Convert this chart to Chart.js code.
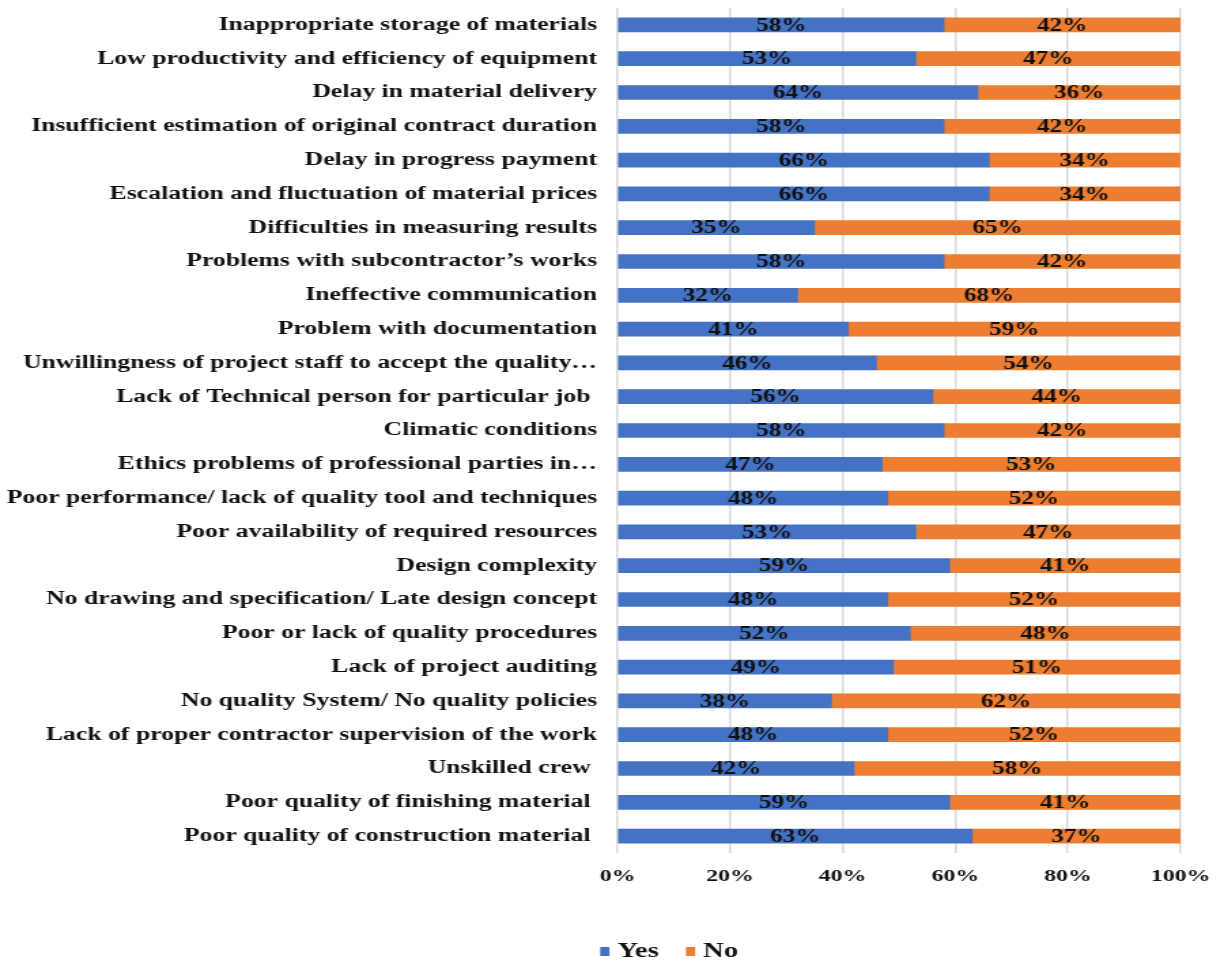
<!DOCTYPE html>
<html>
<head>
<meta charset="utf-8">
<script src="https://cdn.jsdelivr.net/npm/chart.js@4"></script>
<style>
  html, body { margin: 0; padding: 0; background: #fff; overflow: hidden; }
  /* the chart is laid out narrow and widened horizontally */
  #wrap { width: 898px; height: 964px; transform: scaleX(1.36); transform-origin: 0 0; }
</style>
</head>
<body>
<div id="wrap"><canvas id="c"></canvas></div>
<script>
const categories = [
  'Inappropriate storage of materials',
  'Low productivity and efficiency of equipment',
  'Delay in material delivery',
  'Insufficient estimation of original contract duration',
  'Delay in progress payment',
  'Escalation and fluctuation of material prices',
  'Difficulties in measuring results',
  'Problems with subcontractor\u2019s works',
  'Ineffective communication',
  'Problem with documentation',
  'Unwillingness of project staff to accept the quality\u2026',
  'Lack of Technical person for particular job ',
  'Climatic conditions',
  'Ethics problems of professional parties in\u2026',
  'Poor performance/ lack of quality tool and techniques',
  'Poor availability of required resources',
  'Design complexity',
  'No drawing and specification/ Late design concept',
  'Poor or lack of quality procedures',
  'Lack of project auditing',
  'No quality System/ No quality policies',
  'Lack of proper contractor supervision of the work',
  'Unskilled crew ',
  'Poor quality of finishing material ',
  'Poor quality of construction material '
];
const yesValues = [58, 53, 64, 58, 66, 66, 35, 58, 32, 41, 46, 56, 58, 47, 48, 53, 59, 48, 52, 49, 38, 48, 42, 59, 63];
const noValues  = [42, 47, 36, 42, 34, 34, 65, 42, 68, 59, 54, 44, 42, 53, 52, 47, 41, 52, 48, 51, 62, 52, 58, 41, 37];
const xTicks = [0, 20, 40, 60, 80, 100];

const serif = '"Liberation Serif", "Times New Roman", serif';
const textColor = '#111';

// value labels centred inside every bar segment
const barLabels = {
  id: 'barLabels',
  afterDatasetsDraw(chart) {
    const ctx = chart.ctx;
    ctx.save();
    ctx.font = 'bold 18.5px ' + serif;
    ctx.fillStyle = textColor;
    ctx.textAlign = 'center';
    ctx.textBaseline = 'middle';
    chart.data.datasets.forEach((ds, i) => {
      chart.getDatasetMeta(i).data.forEach((bar, j) => {
        const p = bar.getProps(['x', 'y', 'base'], true);
        ctx.fillText(ds.data[j] + '%', (p.x + p.base) / 2, p.y + 1);
      });
    });
    ctx.restore();
  }
};

// compact legend row below the axis: small square swatch + series name
const legendRow = {
  id: 'legendRow',
  afterDraw(chart, args, opts) {
    const ctx = chart.ctx;
    ctx.save();
    ctx.font = 'bold ' + opts.fontSize + 'px ' + serif;
    ctx.textBaseline = 'middle';
    ctx.textAlign = 'left';
    const items = chart.data.datasets.map(ds => ({
      text: ds.label,
      color: ds.backgroundColor,
      w: opts.box + opts.boxGap + ctx.measureText(ds.label).width
    }));
    const total = items.reduce((s, it) => s + it.w, 0) + opts.itemGap * (items.length - 1);
    let x = opts.centerX - total / 2;
    items.forEach(it => {
      ctx.fillStyle = it.color;
      ctx.fillRect(x, opts.y - opts.boxH / 2, opts.box, opts.boxH);
      ctx.fillStyle = textColor;
      ctx.fillText(it.text, x + opts.box + opts.boxGap, opts.y);
      x += it.w + opts.itemGap;
    });
    ctx.restore();
  }
};

new Chart(document.getElementById('c'), {
  type: 'bar',
  data: {
    labels: categories,
    datasets: [
      { label: 'Yes', data: yesValues, backgroundColor: '#4472C4' },
      { label: 'No',  data: noValues,  backgroundColor: '#ED7D31' }
    ]
  },
  options: {
    indexAxis: 'y',
    responsive: true,
    maintainAspectRatio: false,
    animation: false,
    layout: { padding: { top: 8, right: 30, bottom: 0, left: 0 } },
    datasets: { bar: { barThickness: 14 } },
    scales: {
      x: {
        stacked: true,
        min: 0,
        max: 100,
        afterBuildTicks(scale) { scale.ticks = xTicks.map(v => ({ value: v })); },
        afterFit(scale) {
          scale.height = 111;
          scale.paddingLeft = 0;
          scale.paddingRight = 0;
        },
        grid: { color: '#d9d9d9', lineWidth: 1.5, drawTicks: false },
        border: { display: false },
        ticks: {
          padding: 13,
          color: textColor,
          font: { family: serif, size: 17.5, weight: 'bold' },
          callback: v => v + '%'
        }
      },
      y: {
        stacked: true,
        afterFit(scale) {
          scale.width = 454;
          scale.paddingTop = 0;
          scale.paddingBottom = 0;
        },
        grid: { display: false, drawTicks: false },
        border: { display: false },
        ticks: {
          padding: 15,
          color: textColor,
          autoSkip: false,
          font: { family: serif, size: 18.9, weight: 'bold' }
        }
      }
    },
    plugins: {
      legend: { display: false },
      tooltip: { enabled: false },
      legendRow: {
        centerX: 492, y: 951.5, fontSize: 21,
        box: 6.8, boxH: 9, boxGap: 5.9, itemGap: 20
      }
    }
  },
  plugins: [barLabels, legendRow]
});
</script>
</body>
</html>
